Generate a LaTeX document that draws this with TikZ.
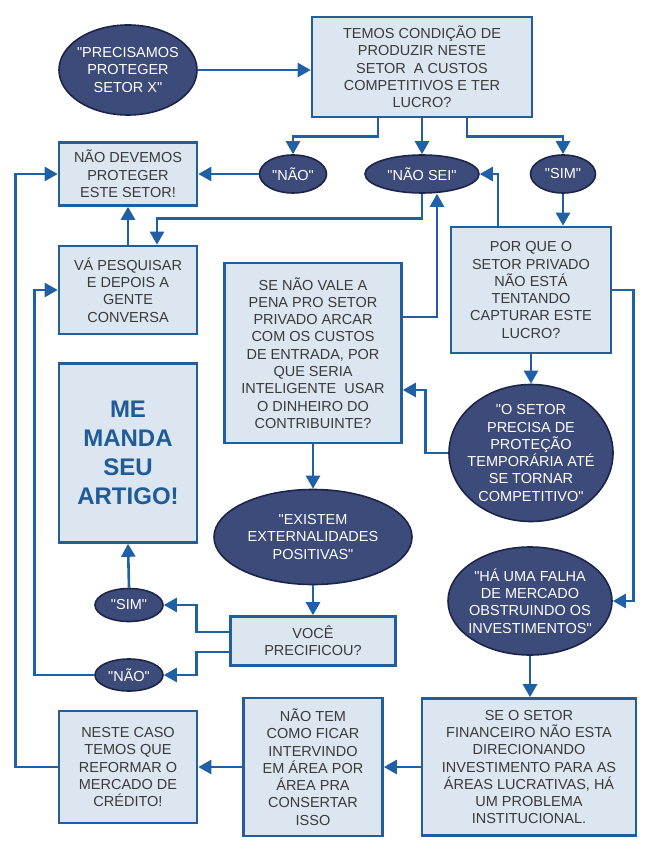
\documentclass[tikz,border=0pt]{standalone}
\usepackage{fontspec}
\setmainfont{Liberation Sans}[Ligatures=TeXOff]
\usepackage{tikz}
\usetikzlibrary{shapes.geometric, arrows.meta}
\definecolor{boxfill}{HTML}{DCE6F1}
\definecolor{boxline}{HTML}{235E9C}
\definecolor{ellfill}{HTML}{3D4B7B}
\definecolor{ellline}{HTML}{1C2547}
\definecolor{linkblue}{HTML}{1F61A4}
\definecolor{boxtext}{HTML}{3A3A3A}
\definecolor{bigtext}{HTML}{1F5B98}

\begin{document}
\begin{tikzpicture}[x=1pt, y=-1pt,
  every node/.style={font=\fontsize{14.5}{17.3}\selectfont, align=center},
  qbox/.style={rectangle, draw=boxline, line width=2.6pt, fill=boxfill, text=boxtext, inner sep=0pt},
  claim/.style={ellipse, draw=ellline, line width=1.6pt, fill=ellfill, text=white, inner sep=-20pt},
  link/.style={draw=linkblue, line width=2.6pt, -{Triangle[length=13pt, width=14pt]}}]
  \useasboundingbox (0,0) rectangle (654,858);
  % top row
  \node[claim, minimum width=138pt, minimum height=90pt] (prec) at (128,70) {"PRECISAMOS\\PROTEGER\\SETOR X"};
  \node[qbox, minimum width=220pt, minimum height=100pt] (temos) at (422,67) {TEMOS CONDIÇÃO DE\\PRODUZIR NESTE\\SETOR\ \ A CUSTOS\\COMPETITIVOS E TER\\LUCRO?};
  \node[claim, minimum width=67pt, minimum height=38pt] (nao) at (293,174) {"NÃO"};
  \node[claim, minimum width=114pt, minimum height=38pt] (naosei) at (422,174) {"NÃO SEI"};
  \node[claim, minimum width=65pt, minimum height=38pt] (sim) at (563,174) {"SIM"};
  % left column
  \node[qbox, minimum width=138pt, minimum height=63pt] (naodev) at (128,174) {NÃO DEVEMOS\\PROTEGER\\ESTE SETOR!};
  \node[qbox, minimum width=138pt, minimum height=88pt] (vapesq) at (128,290) {VÁ PESQUISAR\\E DEPOIS A\\GENTE\\CONVERSA};
  \node[qbox, minimum width=138pt, minimum height=179pt, text=bigtext,
        font=\fontsize{24}{29}\selectfont\bfseries] (memanda) at (128,453) {ME\\MANDA\\SEU\\ARTIGO!};
  \node[claim, minimum width=68pt, minimum height=33pt] (sim2) at (129,605) {"SIM"};
  \node[claim, minimum width=68pt, minimum height=32pt] (nao2) at (129,675) {"NÃO"};
  \node[qbox, minimum width=138pt, minimum height=112pt] (neste) at (128,767) {NESTE CASO\\TEMOS QUE\\REFORMAR O\\MERCADO DE\\CRÉDITO!};
  % middle column
  \node[qbox, minimum width=177pt, minimum height=180pt] (senao) at (313,353) {SE NÃO VALE A\\PENA PRO SETOR\\PRIVADO ARCAR\\COM OS CUSTOS\\DE ENTRADA, POR\\QUE SERIA\\INTELIGENTE\ \ USAR\\O DINHEIRO DO\\CONTRIBUINTE?};
  \node[claim, minimum width=198pt, minimum height=95pt] (existem) at (313,537) {"EXISTEM\\EXTERNALIDADES\\POSITIVAS"};
  \node[qbox, minimum width=165pt, minimum height=49pt] (voce) at (313,641) {VOCÊ\\PRECIFICOU?};
  \node[qbox, minimum width=139pt, minimum height=138pt] (naotem) at (313,767) {NÃO TEM\\COMO FICAR\\INTERVINDO\\EM ÁREA POR\\ÁREA PRA\\CONSERTAR\\ISSO};
  % right column
  \node[qbox, minimum width=160pt, minimum height=126pt] (porque) at (531,290) {POR QUE O\\SETOR PRIVADO\\NÃO ESTÁ\\TENTANDO\\CAPTURAR ESTE\\LUCRO?};
  \node[claim, minimum width=164pt, minimum height=137pt] (osetor) at (531,453) {"O SETOR\\PRECISA DE\\PROTEÇÃO\\TEMPORÁRIA ATÉ\\SE TORNAR\\COMPETITIVO"};
  \node[claim, minimum width=164pt, minimum height=108pt] (hauma) at (530,601) {"HÁ UMA FALHA\\DE MERCADO\\OBSTRUINDO OS\\INVESTIMENTOS"};
  \node[qbox, minimum width=214pt, minimum height=137pt] (seo) at (529,767) {SE O SETOR\\FINANCEIRO NÃO ESTA\\DIRECIONANDO\\INVESTIMENTO PARA AS\\ÁREAS LUCRATIVAS, HÁ\\UM PROBLEMA\\INSTITUCIONAL.};
  % connectors
  \draw[link] (prec.east) -- (prec.east -| temos.west);
  \draw[link] ([xshift=-44pt]temos.south) -- ++(0,18) -| (nao.north);
  \draw[link] (temos.south) -- (naosei.north);
  \draw[link] ([xshift=45pt]temos.south) -- ++(0,18) -| (sim.north);
  \draw[link] (nao.west) -- (naodev.east);
  \draw[link] (naosei.south) -- ++(0,25) -| ([xshift=29pt]vapesq.north);
  \draw[link] (vapesq.north) -- (naodev.south);
  \draw[link] (sim.south) -- (sim.south |- porque.north);
  \draw[link] ([xshift=-33pt]porque.north) |- (naosei.east);
  \draw[link] (porque.east) -- ++(21,0) |- (hauma.east);
  \draw[link] (porque.south) -- (osetor.north);
  \draw[link] (osetor.west) -- ++(-23,0) |- ([yshift=-37pt]senao.east);
  \draw[link] ([yshift=36pt]senao.east) -| ([xshift=15pt]naosei.south);
  \draw[link] (senao.south) -- (existem.north);
  \draw[link] (existem.south) -- (voce.north);
  \draw[link] ([yshift=9pt]voce.west) -- ++(-33,0) |- (sim2.east);
  \draw[link] ([yshift=-11pt]voce.west) -- ++(-33,0) |- (nao2.east);
  \draw[link] (sim2.north) -- (memanda.south);
  \draw[link] (nao2.west) -- ++(-60,0) |- (vapesq.west);
  \draw[link] (hauma.south) -- (hauma.south |- seo.north);
  \draw[link] (seo.west) -- (naotem.east);
  \draw[link] (naotem.west) -- (neste.east);
  \draw[link] (neste.west) -- ++(-42,0) |- (naodev.west);
\end{tikzpicture}
\end{document}
